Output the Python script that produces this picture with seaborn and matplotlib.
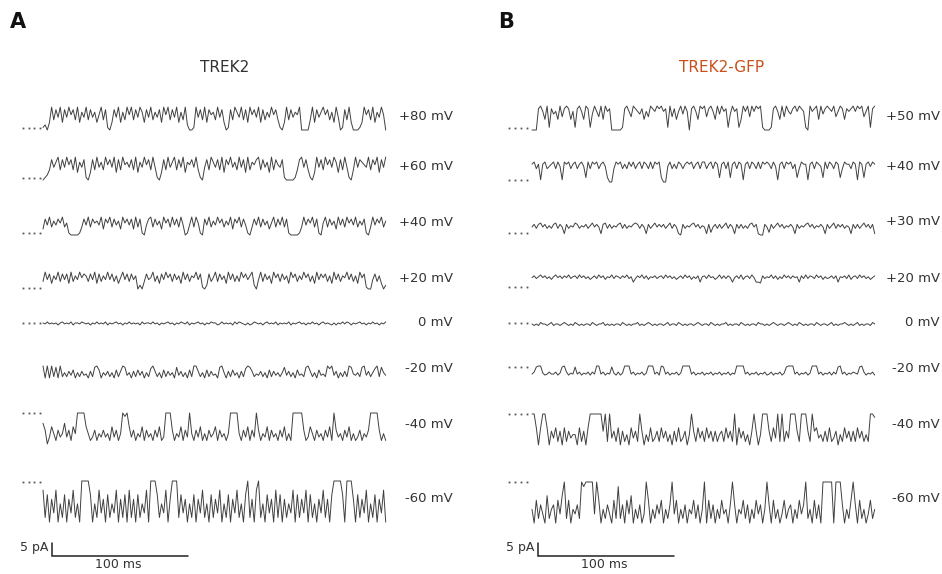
import numpy as np
import pandas as pd
import seaborn as sns
import matplotlib.pyplot as plt

sns.set_style("white")
plt.rcParams['font.family'] = ['DejaVu Sans']

# voltage steps (labels) for both panels
volts_A = ["+80 mV", "+60 mV", "+40 mV", "+20 mV", "0 mV", "-20 mV", "-40 mV", "-60 mV"]
volts_B = ["+50 mV", "+40 mV", "+30 mV", "+20 mV", "0 mV", "-20 mV", "-40 mV", "-60 mV"]

# traces: 0 = closed level, 9 = full opening (amp_* pA)
traces_A = [
    "1203948593 8596849375 9485736948 1038593749 6948597385 9475839694 8593749200 1958493867 4958301849 7594839685 9384759684 1039485769 0000493857 9684739501 8493000139 6849375960",
    "0124857948 5968493758 1038495749 6859384967 5849375968 4951038495 7948593768 5941058497 5849386957 4958394768 9485739486 5810000148 9584103958 4968597384 9510495876 5948693859",
    "3859475869 4610000148 5948675938 6948573968 5839481058 9485739684 9584950159 4961085947 5968475938 6948510485 9485736948 5948100001 4958694810 6948573958 4968594758 1049586947",
    "4958375948 5839475968 7485938475 9584736958 4857020485 6947385968 4857395847 6958102846 9485739584 7496857920 5948573968 4857396847 5968473958 6847395847 6958473968 1005847302",
    "5464545356 4546355465 4535464546 3545645354 6454536455 4645354564 5354654635 4564535465 5346454536 4654353465 4535645463 5454635456 4535464535 6454353546 4653545645 3546453546",
    "0909081908 5847395847 6948103957 4859384017 5948374958 2048593847 5917485938 0048593847 6910594837 5948201486 7485938475 8517485937 6810485937 6802074958 4801675810 7485208157",
    "3597468576 3758460000 4687586757 6847586010 4758674857 6857487000 5867485706 8574868576 4857686000 0685748570 5867485768 5748680000 0587468576 8574805768 5748687586 7500005868",
    "2839472958 3947285900 0039582749 3857294839 2849385729 0003857294 0008374958 3947285938 4729583947 2859308492 0859374928 3948572938 4729385947 2849300003 9000493847 2958394729",
]
amp_A = [8.8, 8.8, 6.9, 6.5, 3.5, 4.6, 11.9, 15.8]

traces_B = [
    "0008974918 6749589847 1897498169 7594978000 0018975987 6847598798 9781958479 6970897498 9589749697 8169781497 9597989100 0189749597 6897987109 7894968987 9579848789 7989579189",
    "8968189678 9697198968 9689729698 9689720069 8968697968 9698696989 2007968698 6898968969 9689698289 6928969818 9698696989 8697189698 9682698818 9698729698 6982698869 8198289798",
    "6858968575 8958618576 9857685796 8618958576 8958576898 5861857968 6857958610 8576896857 6182685857 9586185857 5896810086 2857968576 8618576896 8576861857 9586857618 5857968581",
    "6857968574 7968586957 8596857468 5968476958 7586957158 6958476857 8596857468 5968475817 8596746958 5861685947 8596110857 6958475968 5867185958 7596847568 5817685947 8596857468",
    "5454655456 4554565454 6545455465 4556454545 5465454556 4545654545 5456455465 4545545654 5546545455 6454554654 5455465545 4565455456 5454654545 5465455456 4545565454 5645455465",
    "8610079868 8697106978 1869786968 0086978179 6970008697 8697000869 0186978697 0000869786 9786978697 8697800008 6978697869 8697869710 0086978697 0008697869 6810869786 7810697869",
    "0049400495 7485948576 6948594000 0005080758 4958694758 0596848758 4758695848 7596058475 8475858658 4758094758 6950596000 5847080857 0005800058 0547685848 7596847585 8475868001",
    "6948579386 5947308496 7580100007 0496857948 1859473968 5970496857 4968507496 8596748596 0948596847 6950596748 5968475960 5948697486 5968475086 9485900000 9000596840 5948697486",
]
amp_B = [9.2, 7.7, 4.6, 3.1, 5.2, 3.5, 11.9, 15.8]

duration_ms = 252

# layout (figure pixels)
W, H = 942, 574
PX_MS, PX_PA = 1.36, 2.6
base_A = [130, 180, 235, 289, 328, 366, 413, 481]
base_B = [130, 182, 235, 283, 331.5, 366, 414, 482]
dots_A = [128, 178, 233, 288, 323, None, 413, 482]
dots_B = [128, 180, 233, 287, 323, 367, 414, 482]
labely_A = [117, 167, 223, 278, 323, 369, 424, 498]
labely_B = [117, 167, 222, 278, 323, 369, 424, 498]

trace_col = "#404040"
text_col = "#333333"

fig = plt.figure(figsize=(W / 100, H / 100), dpi=100)


def fx(px):
    return px / W


def fy(py):
    return 1 - py / H


def draw_panel(ax, x0, bar_x, dot_xs, volts, traces, amps, bases, dots):
    ax.set_xlim(-x0 / PX_MS, (W / 2 - x0) / PX_MS)
    ax.set_ylim(-H / PX_PA, 0)
    ax.axis("off")
    for v, s, a, b, d in zip(volts, traces, amps, bases, dots):
        vals = np.array([int(c) for c in s if c != " "]) / 9 * a
        sign = -1 if v.startswith("-") else 1
        t = np.linspace(0, duration_ms, len(vals))
        df = pd.DataFrame({"t": t, "i": -b / PX_PA + sign * vals})
        sns.lineplot(data=df, x="t", y="i", ax=ax, color=trace_col,
                     linewidth=0.7, estimator=None, sort=False)
        if d is not None:
            ax.plot([(x - x0) / PX_MS for x in dot_xs], [-d / PX_PA] * 4,
                    ls="none", marker="s", ms=1.3, color="#555555", mew=0)
    # scale bar 5 pA / 100 ms
    bx = (bar_x - x0) / PX_MS
    by = -556 / PX_PA
    ax.plot([bx, bx, bx + 100], [by + 5, by, by], color="#222222", lw=1.1,
            solid_joinstyle="miter")


axA = fig.add_axes([0, 0, 0.5, 1])
draw_panel(axA, 43, 52, [23, 28.5, 34, 39.5], volts_A, traces_A, amp_A, base_A, dots_A)
axB = fig.add_axes([0.5, 0, 0.5, 1])
draw_panel(axB, 532 - 471, 538 - 471, [509 - 471, 515 - 471, 521 - 471, 527 - 471],
           volts_B, traces_B, amp_B, base_B, dots_B)

for v, y in zip(volts_A, labely_A):
    fig.text(fx(453), fy(y), v, ha="right", va="center", fontsize=9.5, color=text_col)
for v, y in zip(volts_B, labely_B):
    fig.text(fx(940), fy(y), v, ha="right", va="center", fontsize=9.5, color=text_col)

fig.text(fx(10), fy(22), "A", ha="left", va="center", fontsize=15, fontweight="bold", color="#111111")
fig.text(fx(498), fy(22), "B", ha="left", va="center", fontsize=15, fontweight="bold", color="#111111")
fig.text(fx(225), fy(68), "TREK2", ha="center", va="center", fontsize=11, color=text_col)
fig.text(fx(722), fy(68), "TREK2-GFP", ha="center", va="center", fontsize=11, color="#c9501c")

fig.text(fx(48), fy(547), "5 pA", ha="right", va="center", fontsize=9, color=text_col)
fig.text(fx(118), fy(565), "100 ms", ha="center", va="center", fontsize=9, color=text_col)
fig.text(fx(534), fy(547), "5 pA", ha="right", va="center", fontsize=9, color=text_col)
fig.text(fx(604), fy(565), "100 ms", ha="center", va="center", fontsize=9, color=text_col)

fig.savefig("out.png", dpi=100)
